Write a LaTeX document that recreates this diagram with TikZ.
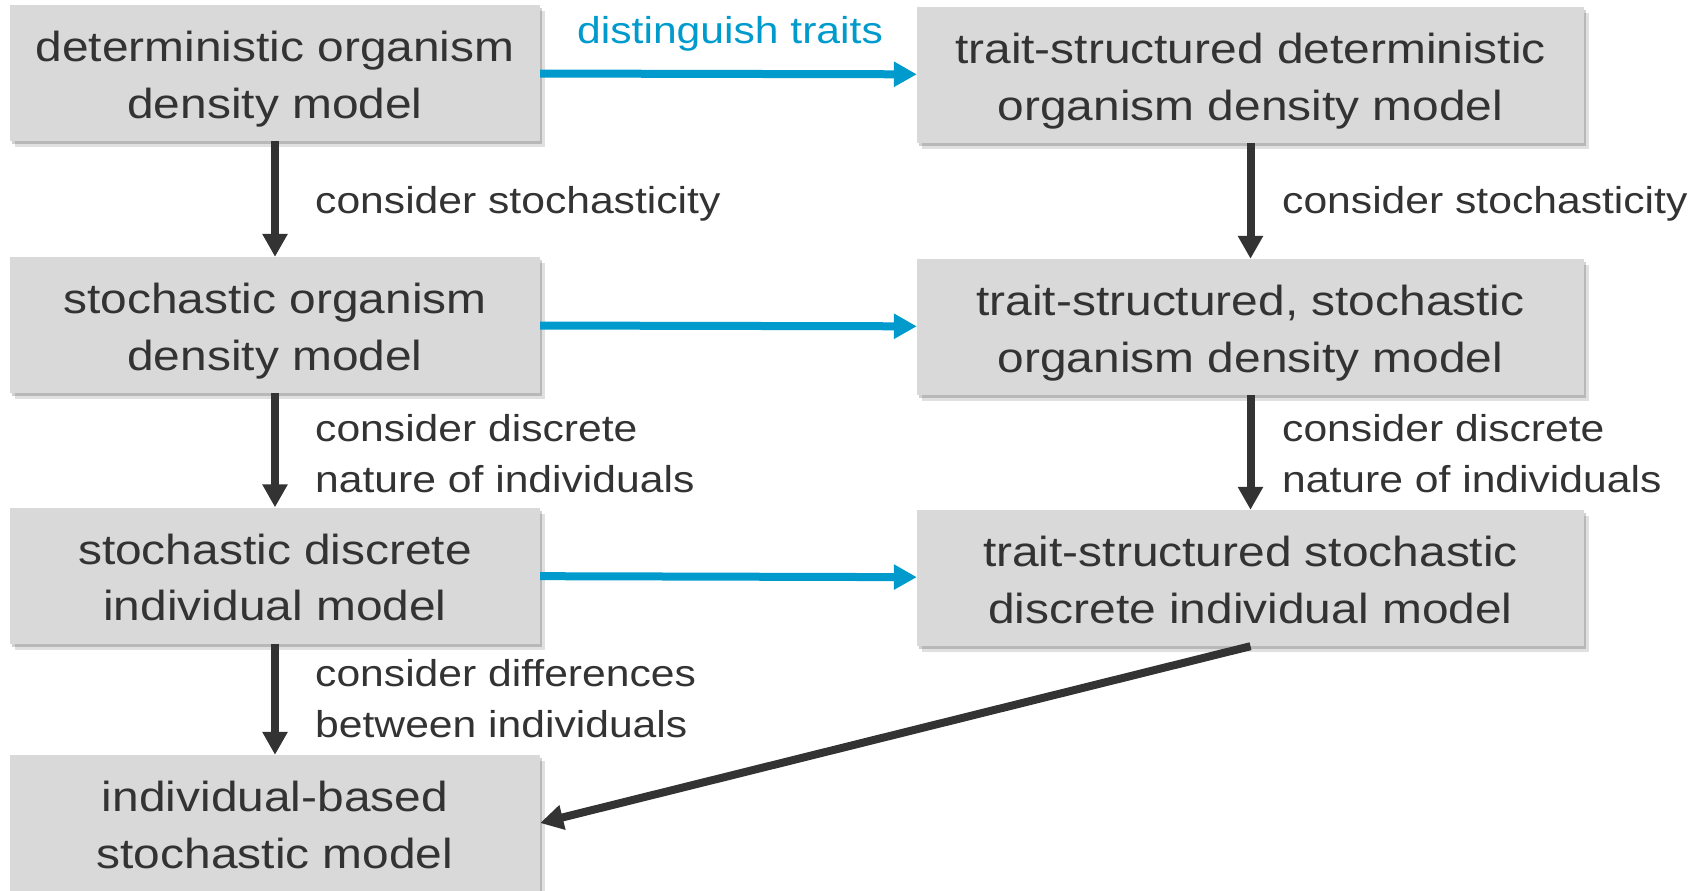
\documentclass[tikz,border=0pt]{standalone}
\usepackage{fontspec}
\setmainfont[FakeStretch=1.14]{Liberation Sans}
\usetikzlibrary{arrows.meta,shadows}
\definecolor{boxgray}{RGB}{217,217,217}
\definecolor{ink}{RGB}{51,51,51}
\definecolor{myblue}{RGB}{0,155,204}
\newcommand{\boxtop}{\rule{0pt}{44pt}}
\newcommand{\boxbot}{\rule[-10pt]{0pt}{10pt}}
\newcommand{\labtop}{\rule{0pt}{30pt}}
\begin{document}
\begin{tikzpicture}[x=1pt,y=-1pt,
  modelbox/.style={fill=boxgray, draw=none, text=ink, inner sep=0pt, align=center,
    font=\fontsize{42}{56.7}\selectfont,
    drop shadow={shadow xshift=2pt, shadow yshift=-3pt, fill=black, opacity=0.18},
    drop shadow={shadow xshift=5pt, shadow yshift=-6pt, fill=black, opacity=0.12}},
  leftbox/.style={modelbox, minimum width=530pt, minimum height=136pt},
  rightbox/.style={modelbox, minimum width=667pt, minimum height=136pt},
  lbl/.style={text=ink, inner sep=0pt, anchor=north west, align=left,
    font=\fontsize{37.4}{51}\selectfont},
  blk/.style={draw=ink, line width=8pt, -{Triangle[width=24pt,length=23pt]}},
  blu/.style={draw=myblue, line width=8pt, -{Triangle[width=24pt,length=23pt]}}]
\useasboundingbox (0,0) rectangle (1703,891);

\node[leftbox] (L1) at (275,73) {\boxtop deterministic organism\\density model\boxbot};
\node[leftbox] (L2) at (275,325) {\boxtop stochastic organism\\density model\boxbot};
\node[leftbox] (L3) at (275,575.5) {\boxtop stochastic discrete\\individual model\boxbot};
\node[leftbox] (L4) at (275,823) {\boxtop individual-based\\stochastic model\boxbot};

\node[rightbox] (R1) at (1250.5,75) {\boxtop trait-structured deterministic\\organism density model\boxbot};
\node[rightbox] (R2) at (1250.5,327) {\boxtop trait-structured, stochastic\\organism density model\boxbot};
\node[rightbox] (R3) at (1250.5,578) {\boxtop trait-structured stochastic\\discrete individual model\boxbot};

\draw[blu] (L1) -- (R1);
\draw[blu] (L2) -- (R2);
\draw[blu] (L3) -- (R3);

\draw[blk] (L1) -- (L2);
\draw[blk] (L2) -- (L3);
\draw[blk] (L3) -- (L4);
\draw[blk] (R1) -- (R2);
\draw[blk] (R2) -- (R3);
\draw[blk] (R3.south) -- (L4.east);

\node[lbl, text=myblue] (dt) at (577,13.3) {\labtop distinguish traits};
\node[lbl] (ls1) at (315,183.3) {\labtop consider stochasticity};
\node[lbl] (ls2) at (315,411) {\labtop consider discrete\\nature of individuals};
\node[lbl] (ls3) at (315,656) {\labtop consider differences\\between individuals};
\node[lbl] (rs1) at (1282,183.3) {\labtop consider stochasticity};
\node[lbl] (rs2) at (1282,411) {\labtop consider discrete\\nature of individuals};
\end{tikzpicture}
\end{document}
